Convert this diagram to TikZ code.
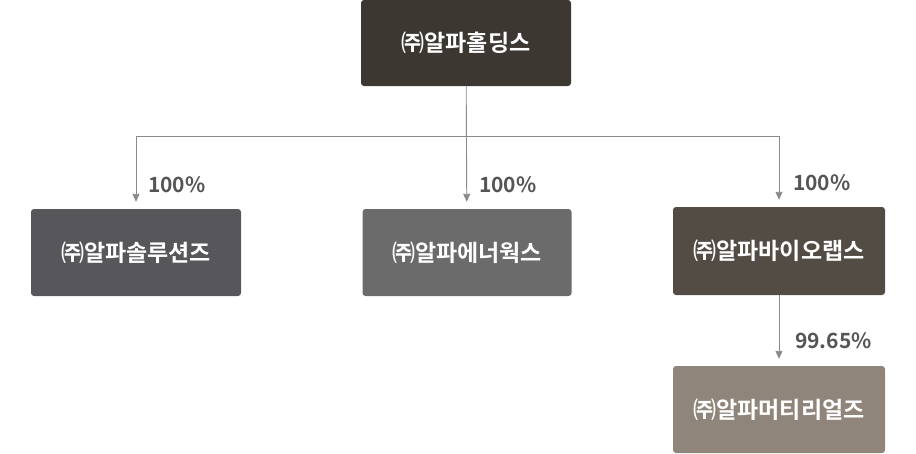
\documentclass[tikz,border=0pt]{standalone}
\usepackage{fontspec}
\setmainfont{Noto Sans CJK KR}[BoldFont={* Bold}]
\usetikzlibrary{arrows.meta}
\definecolor{ctop}{HTML}{3D3732}
\definecolor{cleft}{HTML}{57575B}
\definecolor{cmid}{HTML}{6B6B6B}
\definecolor{cright}{HTML}{534C45}
\definecolor{cbot}{HTML}{8F857A}
\definecolor{cline}{HTML}{8A8A8A}
\definecolor{clab}{HTML}{555555}
\tikzset{
  company/.style={draw=none, rounded corners=3pt, minimum width=210pt, minimum height=87pt,
    text=white, font=\fontsize{23}{26}\selectfont\bfseries, inner sep=0pt},
  conn/.style={draw=cline, line width=0.9pt},
  arr/.style={conn, -{Triangle[length=8pt,width=7pt]}, shorten >=7pt},
  pct/.style={anchor=west, text=clab, font=\fontsize{21}{24}\selectfont\bfseries, inner sep=0pt}
}
\begin{document}
\begin{tikzpicture}[x=1pt,y=-1pt]
\useasboundingbox (0,0) rectangle (916,453);
\node[company, fill=ctop, minimum height=86pt] (top) at (466,43) {㈜알파홀딩스};
\node[company, fill=cleft] (left) at (136,252.5) {㈜알파솔루션즈};
\node[company, fill=cmid, minimum width=209pt] (mid) at (467,252.5) {㈜알파에너웍스};
\node[company, fill=cright, minimum width=212pt, minimum height=88pt] (right) at (779,251) {㈜알파바이오랩스};
\node[company, fill=cbot, minimum width=212pt] (bot) at (779,409.5) {㈜알파머티리얼즈};
\coordinate (hub) at (466,136);
\draw[arr] (top) -- (mid);
\draw[conn] (left.north |- hub) -- (right.north |- hub);
\draw[arr] (left.north |- hub) -- (left);
\draw[arr] (right.north |- hub) -- (right);
\draw[arr] (right) -- (bot);
\node[pct] (p1) at (148,185) {100\%};
\node[pct] (p2) at (479,185) {100\%};
\node[pct] (p3) at (793,183) {100\%};
\node[pct] (p4) at (795,341) {99.65\%};
\end{tikzpicture}
\end{document}
